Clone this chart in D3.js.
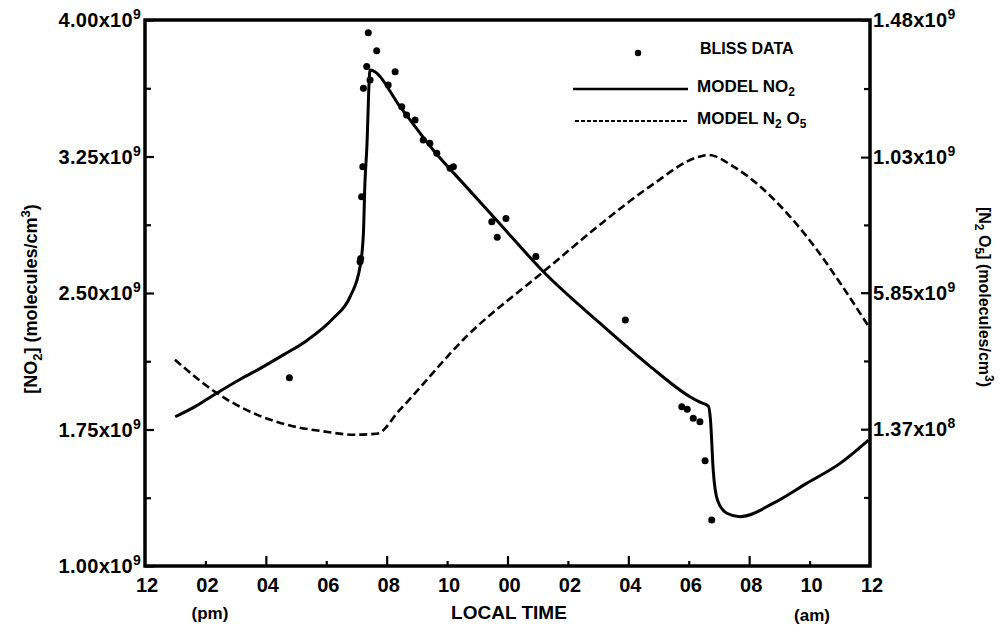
<!DOCTYPE html>
<html><head><meta charset="utf-8">
<script src="https://cdn.jsdelivr.net/npm/d3@7"></script>
<style>
body{margin:0;background:#fff}
text{font-family:"Liberation Sans",Arial,Helvetica,sans-serif;font-weight:bold;fill:#000}
</style>
</head><body>
<svg id="c" width="1004" height="632"></svg>
<script>
// ---------------- DATA ----------------
// time axis: hours since midnight of day 1 (12 = noon, 36 = noon next day)
const timeTickHours  = [12,14,16,18,20,22,24,26,28,30,32,34,36];
const timeTickLabels = ["12","02","04","06","08","10","00","02","04","06","08","10","12"];
const timeMajorHours = [16,20,24,28,32];
const timeMinorHours = [14,18,22,26,30,34];

// left axis: [NO2] in units of 1e9 molecules/cm3
const no2TickValues = [1.00,1.75,2.50,3.25,4.00];
const no2TickMant   = ["1.00","1.75","2.50","3.25","4.00"];
const no2TickExp    = ["9","9","9","9","9"];
const no2MinorValues = [1.375,2.125,2.875,3.625];

// right axis: [N2O5] in units of 1e8 molecules/cm3
const n2o5TickValues = [14.8,10.3,5.85,1.37];
const n2o5TickMant   = ["1.48","1.03","5.85","1.37"];
const n2o5TickExp    = ["9","9","9","8"];
const n2o5MinorValues = [12.55,8.075,3.61,-0.87];

// model NO2 (solid) : hour, value (1e9)
const no2ModelHours  = [13.0,13.7,14.37,15.14,15.70,16.58,17.35,18.23,18.79,19.12,19.23,19.28,19.34,19.45,20.5,21.54,22.6,23.64,25.19,27.06,28.7,30.04,30.37,30.65,30.72,30.81,30.95,31.26,31.70,32.80,33.90,35.01,35.95];
const no2ModelValues = [1.82,1.88,1.949,2.025,2.075,2.160,2.238,2.361,2.480,2.645,2.828,3.103,3.286,3.725,3.51,3.286,3.09,2.90,2.617,2.334,2.10,1.930,1.90,1.879,1.802,1.527,1.363,1.290,1.271,1.345,1.454,1.564,1.692];

// model N2O5 (dashed) : hour, value (1e8)
const n2o5ModelHours  = [12.99,14.37,15.70,16.80,17.90,18.90,19.67,20.44,22.65,25.19,27.06,28.72,30.37,30.65,31.48,32.36,33.35,34.24,35.01,35.95];
const n2o5ModelValues = [3.65,2.56,1.85,1.49,1.30,1.19,1.22,2.01,4.42,6.54,8.08,9.34,10.32,10.37,9.99,9.34,8.35,7.26,6.17,4.75];

// BLISS data : hour, NO2 (1e9)
const blissHours  = [16.78,19.12,19.14,19.17,19.21,19.23,19.34,19.39,19.45,19.67,20.05,20.28,20.50,20.66,20.94,21.21,21.43,21.66,22.10,22.21,23.48,23.66,23.95,24.94,27.90,29.77,29.95,30.15,30.37,30.54,30.76];
const blissValues = [2.035,2.672,2.690,3.029,3.194,3.625,3.744,3.930,3.670,3.831,3.643,3.716,3.524,3.478,3.451,3.341,3.323,3.268,3.185,3.194,2.892,2.806,2.910,2.700,2.352,1.875,1.861,1.812,1.793,1.578,1.253];

// ---------------- CHART ----------------
const svg = d3.select("#c");
const L = 145, R = 870, T = 20, B = 566;
const x  = d3.scaleLinear().domain([12,36]).range([L,R]);
const yL = d3.scaleLinear().domain([1.0,4.0]).range([B,T]);
const yR = d3.scaleLinear().domain([-3.12,14.8]).range([B,T]);

// ticks (inward)
const g = svg.append("g");
g.append("g").attr("transform",`translate(${L},0)`)
  .call(d3.axisLeft(yL).tickValues(no2TickValues).tickSizeInner(-9).tickSizeOuter(0).tickFormat(""));
g.append("g").attr("transform",`translate(${L},0)`)
  .call(d3.axisLeft(yL).tickValues(no2MinorValues).tickSizeInner(-6).tickSizeOuter(0).tickFormat(""));
g.append("g").attr("transform",`translate(${R},0)`)
  .call(d3.axisRight(yR).tickValues(n2o5TickValues).tickSizeInner(-9).tickSizeOuter(0).tickFormat(""));
g.append("g").attr("transform",`translate(${R},0)`)
  .call(d3.axisRight(yR).tickValues(n2o5MinorValues).tickSizeInner(-6).tickSizeOuter(0).tickFormat(""));
g.append("g").attr("transform",`translate(0,${B})`)
  .call(d3.axisBottom(x).tickValues(timeMajorHours).tickSizeInner(-10).tickSizeOuter(0).tickFormat(""));
g.append("g").attr("transform",`translate(0,${B})`)
  .call(d3.axisBottom(x).tickValues(timeMinorHours).tickSizeInner(-5).tickSizeOuter(0).tickFormat(""));
g.selectAll(".domain").remove();
g.selectAll(".tick line").attr("stroke","#000").attr("stroke-width",2.2);

// frame
svg.append("rect").attr("x",L).attr("y",T).attr("width",R-L).attr("height",B-T)
  .attr("fill","none").attr("stroke","#000").attr("stroke-width",3.5);

// left tick labels
no2TickValues.forEach((v,i)=>{
  const t = svg.append("text").attr("x",L-4).attr("y",yL(v)+7).attr("text-anchor","end")
    .style("font-size","20px").style("letter-spacing","0.3px");
  t.append("tspan").text(no2TickMant[i]+"x10");
  t.append("tspan").attr("dy",-8).style("font-size","14px").text(no2TickExp[i]);
});
// right tick labels
n2o5TickValues.forEach((v,i)=>{
  const t = svg.append("text").attr("x",R+3).attr("y",yR(v)+7).attr("text-anchor","start")
    .style("font-size","20px").style("letter-spacing","0.3px");
  t.append("tspan").text(n2o5TickMant[i]+"x10");
  t.append("tspan").attr("dy",-8).style("font-size","14px").text(n2o5TickExp[i]);
});
// bottom tick labels
timeTickHours.forEach((h,i)=>{
  svg.append("text").attr("x",x(h)+2).attr("y",592).attr("text-anchor","middle")
    .style("font-size","20px").text(timeTickLabels[i]);
});
svg.append("text").attr("x",210).attr("y",619).attr("text-anchor","middle").style("font-size","17px").text("(pm)");
svg.append("text").attr("x",509).attr("y",619).attr("text-anchor","middle").style("font-size","19px").text("LOCAL TIME");
svg.append("text").attr("x",812).attr("y",621).attr("text-anchor","middle").style("font-size","17px").text("(am)");

// axis titles
const lt = svg.append("text").attr("transform","translate(37,299) rotate(-90)")
  .attr("text-anchor","middle").style("font-size","18px");
lt.append("tspan").text("[NO");
lt.append("tspan").attr("dy",5).style("font-size","13px").text("2");
lt.append("tspan").attr("dy",-5).text("] (molecules/cm");
lt.append("tspan").attr("dy",-7).style("font-size","13px").text("3");
lt.append("tspan").attr("dy",7).text(")");

const rt = svg.append("text").attr("transform","translate(979,297) rotate(90)")
  .attr("text-anchor","middle").style("font-size","16px");
rt.append("tspan").text("[N");
rt.append("tspan").attr("dy",4).style("font-size","12px").text("2");
rt.append("tspan").attr("dy",-4).text(" O");
rt.append("tspan").attr("dy",4).style("font-size","12px").text("5");
rt.append("tspan").attr("dy",-4).text("] (molecules/cm");
rt.append("tspan").attr("dy",-6).style("font-size","12px").text("3");
rt.append("tspan").attr("dy",6).text(")");

// lines
const no2Data = no2ModelHours.map((h,i)=>[h,no2ModelValues[i]]);
const n2o5Data = n2o5ModelHours.map((h,i)=>[h,n2o5ModelValues[i]]);
svg.append("path").datum(n2o5Data)
  .attr("d",d3.line().x(d=>x(d[0])).y(d=>yR(d[1])).curve(d3.curveMonotoneX))
  .attr("fill","none").attr("stroke","#000").attr("stroke-width",2.6).attr("stroke-dasharray","8,4");
svg.append("path").datum(no2Data)
  .attr("d",d3.line().x(d=>x(d[0])).y(d=>yL(d[1])).curve(d3.curveMonotoneX))
  .attr("fill","none").attr("stroke","#000").attr("stroke-width",3);

// data points
svg.append("g").selectAll("circle").data(blissHours.map((h,i)=>[h,blissValues[i]])).join("circle")
  .attr("cx",d=>x(d[0])).attr("cy",d=>yL(d[1])).attr("r",3.5).attr("fill","#000");

// legend
svg.append("circle").attr("cx",638).attr("cy",53).attr("r",3.2).attr("fill","#000");
svg.append("text").attr("x",700).attr("y",54).style("font-size","16px").text("BLISS DATA");
svg.append("line").attr("x1",573).attr("x2",688).attr("y1",89).attr("y2",89).attr("stroke","#000").attr("stroke-width",2.5);
const l2 = svg.append("text").attr("x",697).attr("y",92).style("font-size","17px");
l2.append("tspan").text("MODEL NO");
l2.append("tspan").attr("dy",4).style("font-size","12px").text("2");
svg.append("line").attr("x1",575).attr("x2",688).attr("y1",121).attr("y2",121).attr("stroke","#000").attr("stroke-width",2).attr("stroke-dasharray","4,2");
const l3 = svg.append("text").attr("x",697).attr("y",124).style("font-size","17px");
l3.append("tspan").text("MODEL N");
l3.append("tspan").attr("dy",4).style("font-size","12px").text("2");
l3.append("tspan").attr("dy",-4).text(" O");
l3.append("tspan").attr("dy",4).style("font-size","12px").text("5");
</script>
</body></html>
